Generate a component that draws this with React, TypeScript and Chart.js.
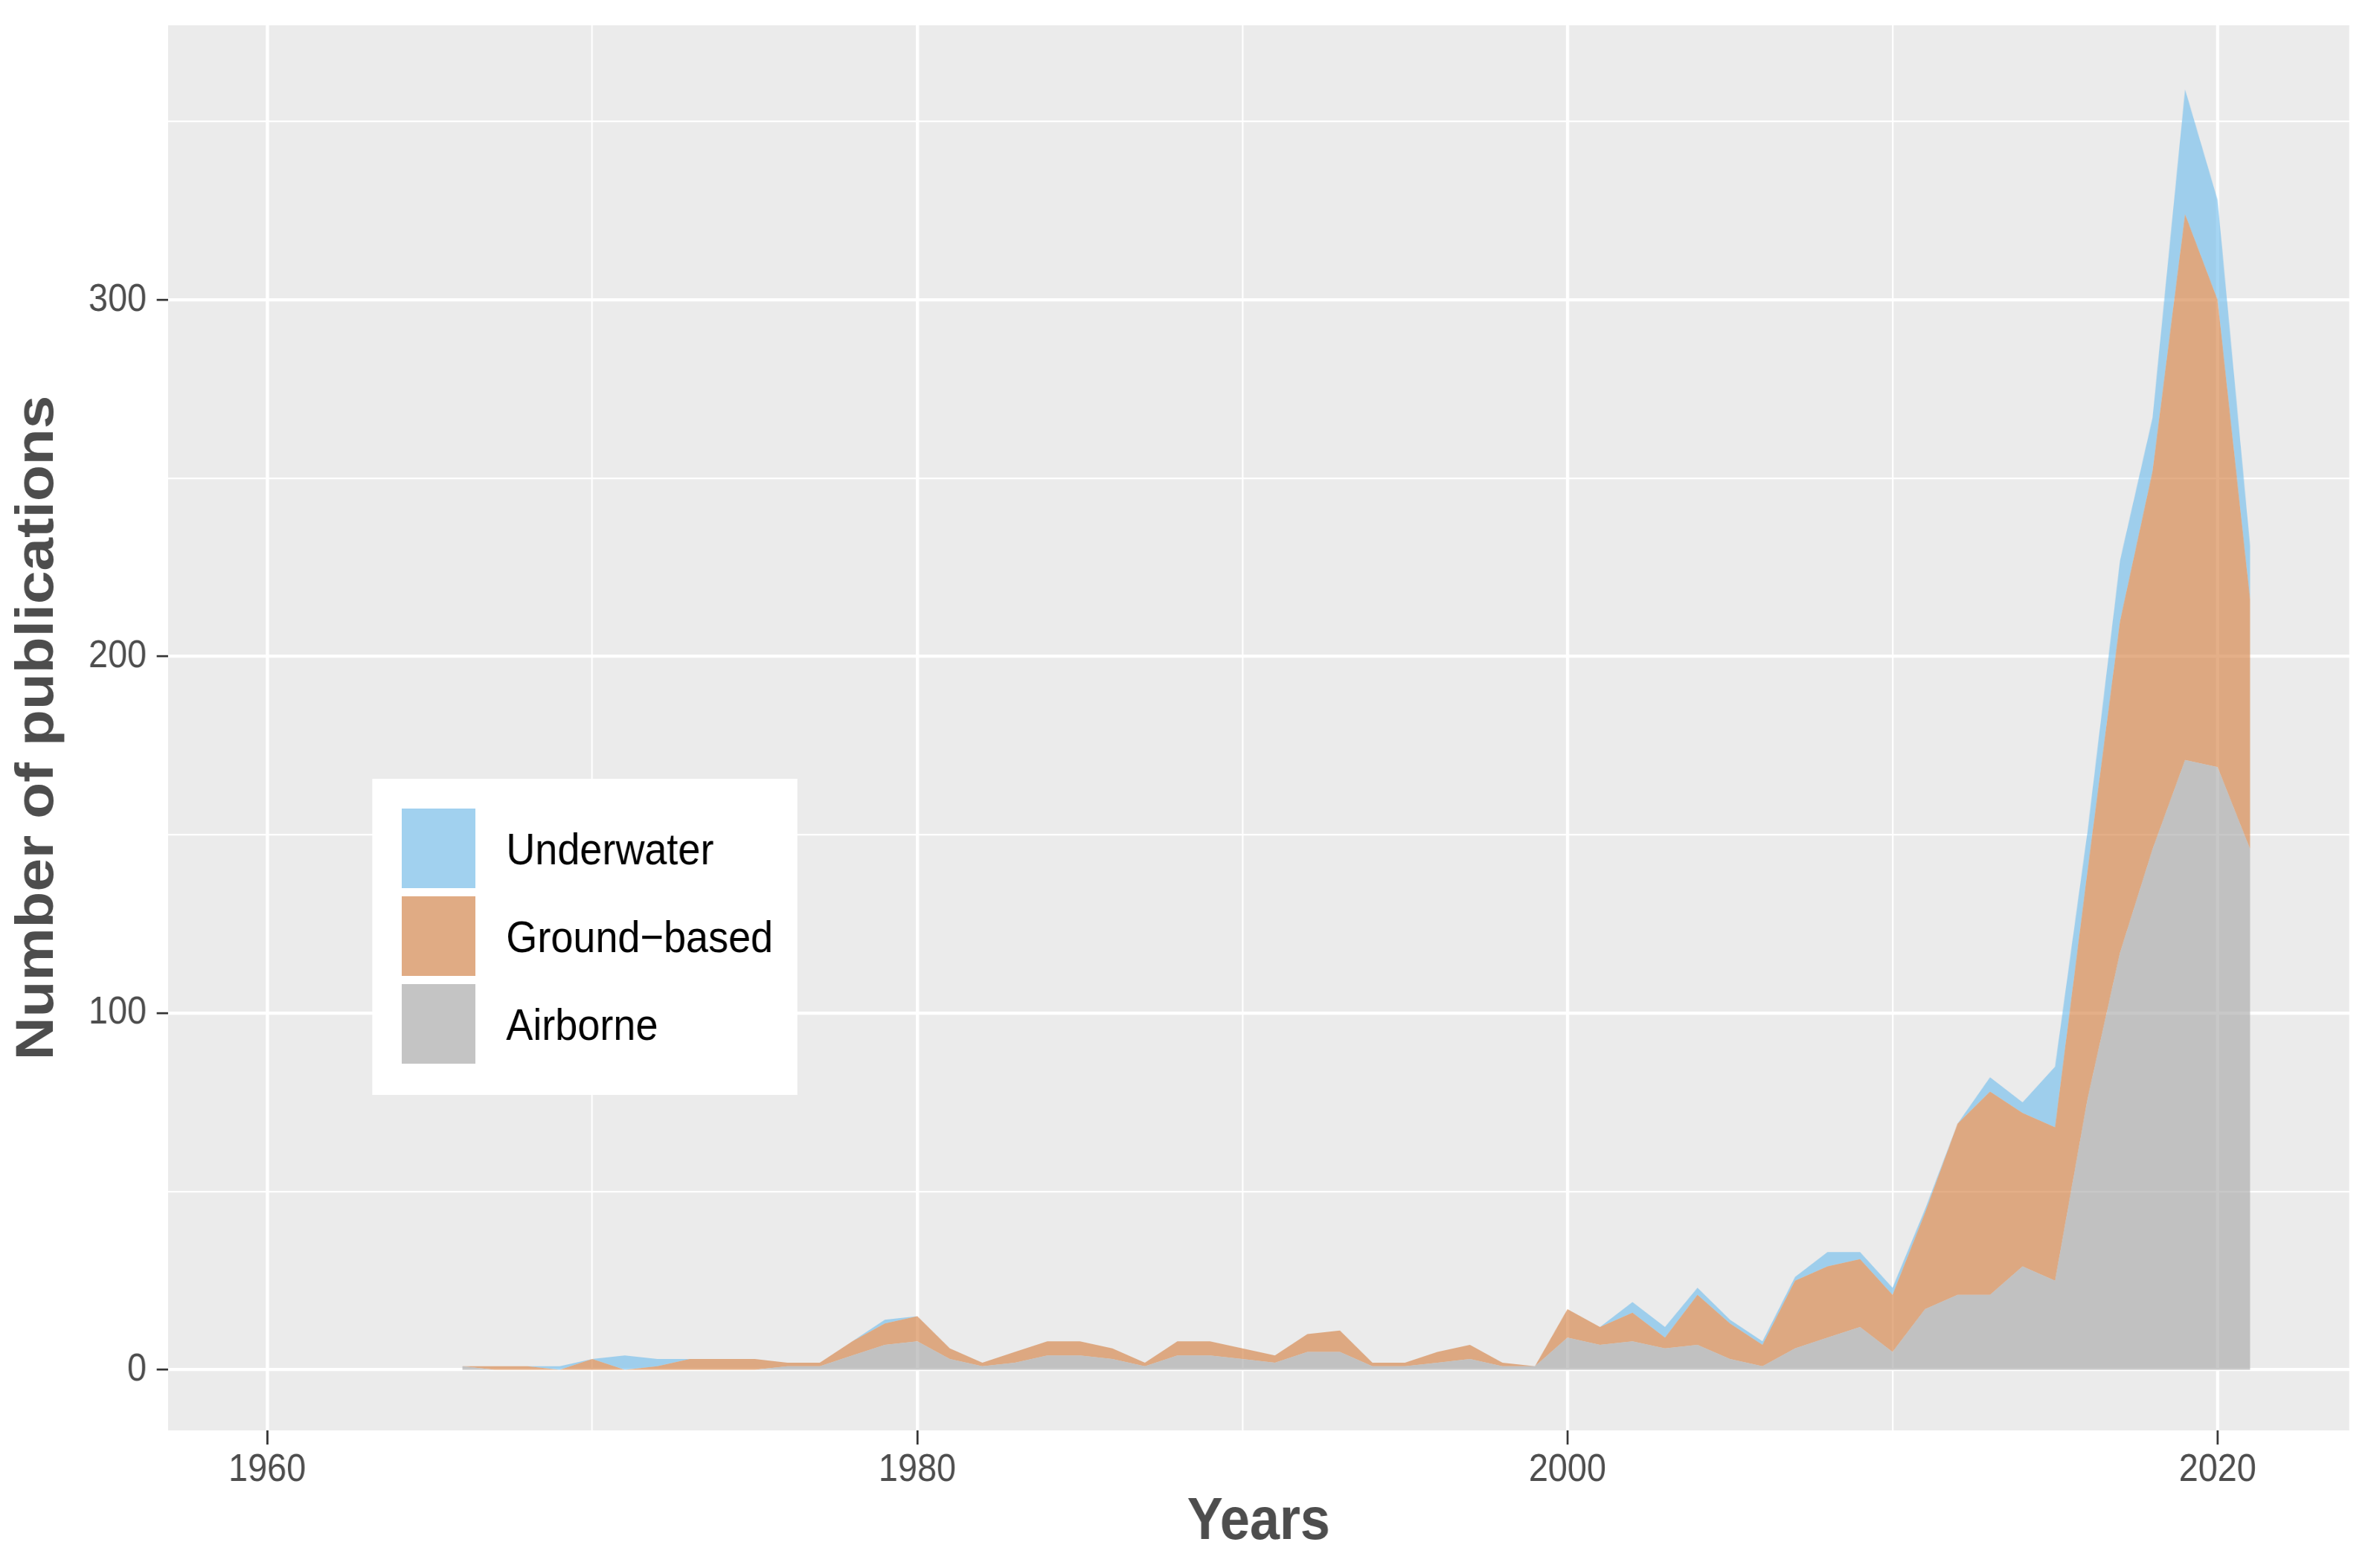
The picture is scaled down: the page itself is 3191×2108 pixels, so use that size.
import { useEffect, useRef } from 'react';
import { Chart, registerables } from 'chart.js';

Chart.register(...registerables);

// ---- data ----
const YEARS = [
  1966, 1967, 1968, 1969, 1970, 1971, 1972, 1973, 1974, 1975,
  1976, 1977, 1978, 1979, 1980, 1981, 1982, 1983, 1984, 1985,
  1986, 1987, 1988, 1989, 1990, 1991, 1992, 1993, 1994, 1995,
  1996, 1997, 1998, 1999, 2000, 2001, 2002, 2003, 2004, 2005,
  2006, 2007, 2008, 2009, 2010, 2011, 2012, 2013, 2014, 2015,
  2016, 2017, 2018, 2019, 2020, 2021,
];
const AIRBORNE = [
  1, 0, 0, 0, 0, 0, 0, 0, 0, 0,
  1, 1, 4, 7, 8, 3, 1, 2, 4, 4,
  3, 1, 4, 4, 3, 2, 5, 5, 1, 1,
  2, 3, 1, 1, 9, 7, 8, 6, 7, 3,
  1, 6, 9, 12, 5, 17, 21, 21, 29, 25,
  76, 117, 146, 171, 169, 146,
];
const GROUND_BASED = [
  0, 1, 1, 0, 3, 0, 1, 3, 3, 3,
  1, 1, 4, 6, 7, 3, 1, 3, 4, 4,
  3, 1, 4, 4, 3, 2, 5, 6, 1, 1,
  3, 4, 1, 0, 8, 5, 8, 3, 14, 10,
  6, 19, 20, 19, 16, 27, 48, 57, 43, 43,
  64, 93, 106, 153, 131, 70,
];
const UNDERWATER = [
  0, 0, 0, 1, 0, 4, 2, 0, 0, 0,
  0, 0, 0, 1, 0, 0, 0, 0, 0, 0,
  0, 0, 0, 0, 0, 0, 0, 0, 0, 0,
  0, 0, 0, 0, 0, 0, 3, 3, 2, 1,
  1, 1, 4, 2, 2, 1, 0, 4, 3, 17,
  11, 17, 15, 35, 28, 15,
];
const SERIES_NAMES = ['Underwater', 'Ground\u2212based', 'Airborne'];
const X_MAJOR = [1960, 1980, 2000, 2020];
const X_MINOR = [1970, 1990, 2010];
const Y_MAJOR = [0, 100, 200, 300];
const Y_MINOR = [50, 150, 250, 350];
const X_TITLE = 'Years';
const Y_TITLE = 'Number of publications';

// ---- styles ----
const FONT = '"Liberation Sans", Arial, Helvetica, sans-serif';
const C_UNDER = 'rgba(116,190,236,0.65)';
const C_GROUND = 'rgba(214,132,72,0.65)';
const C_AIR = 'rgba(170,170,170,0.65)';
const PANEL_BG = '#ebebeb';

// canvas is drawn wider and squeezed horizontally (the reference is horizontally compressed)
const OUT_W = 3191;
const H = 2108;
const SQUEEZE = 0.9;
const W = Math.round(OUT_W / SQUEEZE);

const panelBg = {
  id: 'panelBg',
  beforeDraw(chart: any) {
    const { ctx, chartArea: a } = chart;
    ctx.save();
    ctx.fillStyle = PANEL_BG;
    ctx.fillRect(a.left, a.top, a.right - a.left, a.bottom - a.top);
    ctx.restore();
  },
};

const insetLegend = {
  id: 'insetLegend',
  afterDraw(chart: any) {
    const ctx = chart.ctx as CanvasRenderingContext2D;
    ctx.save();
    ctx.fillStyle = '#ffffff';
    ctx.fillRect(556, 1047, 635, 425);
    const colors = [C_UNDER, C_GROUND, C_AIR];
    const keyTops = [1087, 1205, 1323];
    const baselines = [1162, 1280, 1398];
    ctx.font = `60px ${FONT}`;
    ctx.textBaseline = 'alphabetic';
    ctx.textAlign = 'left';
    for (let i = 0; i < 3; i++) {
      ctx.fillStyle = '#f2f2f2';
      ctx.fillRect(600, keyTops[i], 110, 107);
      ctx.fillStyle = colors[i];
      ctx.fillRect(600, keyTops[i], 110, 107);
      ctx.fillStyle = '#000000';
      ctx.fillText(SERIES_NAMES[i], 756, baselines[i]);
    }
    ctx.restore();
  },
};

export default function App() {
  const ref = useRef<HTMLCanvasElement>(null);

  useEffect(() => {
    document.body.style.margin = '0';
    const canvas = ref.current;
    if (!canvas) return;
    const toPts = (vals: number[]) => YEARS.map((yr, i) => ({ x: yr, y: vals[i] }));
    const isMajorX = (v: number) => X_MAJOR.includes(v);
    const isMajorY = (v: number) => Y_MAJOR.includes(v);

    const chart = new Chart(canvas, {
      type: 'line',
      data: {
        datasets: [
          { label: SERIES_NAMES[2], data: toPts(AIRBORNE), backgroundColor: C_AIR, fill: 'origin' },
          { label: SERIES_NAMES[1], data: toPts(GROUND_BASED), backgroundColor: C_GROUND, fill: '-1' },
          { label: SERIES_NAMES[0], data: toPts(UNDERWATER), backgroundColor: C_UNDER, fill: '-1' },
        ] as any,
      },
      options: {
        animation: false,
        responsive: false,
        devicePixelRatio: 1,
        layout: { autoPadding: false, padding: { left: 0, right: W - 3509, top: 34, bottom: 0 } },
        elements: {
          line: { tension: 0, borderWidth: 0, borderColor: 'rgba(0,0,0,0)' },
          point: { radius: 0, hoverRadius: 0, hitRadius: 0 },
        },
        plugins: { legend: { display: false }, tooltip: { enabled: false } },
        scales: {
          x: {
            type: 'linear',
            min: 1956.95,
            max: 2024.05,
            afterBuildTicks: (s: any) => {
              s.ticks = [...X_MAJOR, ...X_MINOR].sort((a, b) => a - b).map((v) => ({ value: v }));
            },
            afterFit: (s: any) => {
              s.height = 185;
              s.paddingLeft = 0;
              s.paddingRight = 0;
            },
            border: { display: false },
            grid: {
              color: '#ffffff',
              lineWidth: (c: any) => (isMajorX(c.tick?.value) ? 4.8 : 2.4),
              drawTicks: true,
              tickLength: 19,
              tickColor: (c: any) => (isMajorX(c.tick?.value) ? '#333333' : 'rgba(0,0,0,0)'),
              tickWidth: 3,
            },
            ticks: {
              autoSkip: false,
              maxRotation: 0,
              padding: 3,
              color: '#4d4d4d',
              font: { family: FONT, size: 52, lineHeight: 1.2 },
              callback: (v: any) => (isMajorX(Number(v)) ? String(v) : ''),
            },
            title: {
              display: true,
              text: X_TITLE,
              color: '#4d4d4d',
              font: { family: FONT, size: 80, weight: 'bold', lineHeight: 1.2 },
              padding: { top: 0, bottom: 13 },
            },
          },
          y: {
            type: 'linear',
            stacked: true,
            min: -17,
            max: 377,
            afterBuildTicks: (s: any) => {
              s.ticks = [...Y_MAJOR, ...Y_MINOR].sort((a, b) => a - b).map((v) => ({ value: v }));
            },
            afterFit: (s: any) => {
              s.width = 251;
              s.paddingTop = 0;
              s.paddingBottom = 0;
            },
            border: { display: false },
            grid: {
              color: '#ffffff',
              lineWidth: (c: any) => (isMajorY(c.tick?.value) ? 4.3 : 2.2),
              drawTicks: true,
              tickLength: 17,
              tickColor: (c: any) => (isMajorY(c.tick?.value) ? '#333333' : 'rgba(0,0,0,0)'),
              tickWidth: 2.7,
            },
            ticks: {
              autoSkip: false,
              padding: 15,
              color: '#4d4d4d',
              font: { family: FONT, size: 52, lineHeight: 1.2 },
              callback: (v: any) => (isMajorY(Number(v)) ? String(v) : ''),
            },
            title: {
              display: true,
              text: Y_TITLE,
              color: '#4d4d4d',
              font: { family: FONT, size: 80, weight: 'bold', lineHeight: 1.2 },
              padding: { top: 9, bottom: 0 },
            },
          },
        },
      } as any,
      plugins: [panelBg, insetLegend],
    });
    return () => chart.destroy();
  }, []);

  return (
    <div
      style={{
        position: 'fixed',
        left: 0,
        top: 0,
        width: OUT_W,
        height: H,
        overflow: 'hidden',
        background: '#ffffff',
      }}
    >
      <div style={{ width: W, height: H, transform: `scaleX(${OUT_W / W})`, transformOrigin: '0 0' }}>
        <canvas ref={ref} width={W} height={H} style={{ display: 'block', width: W, height: H }} />
      </div>
    </div>
  );
}
